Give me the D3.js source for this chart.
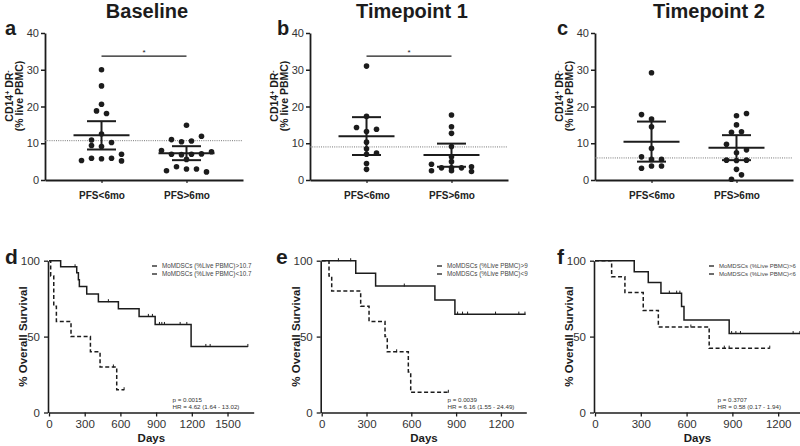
<!DOCTYPE html>
<html>
<head>
<meta charset="utf-8">
<script src="https://cdn.jsdelivr.net/npm/d3@7"></script>
<style>
body {margin: 0; background: #fff}
text {font-family: "Liberation Sans", Arial, sans-serif}
</style>
</head>
<body>
<svg id="fig" width="800" height="446"></svg>
<script>
// ---- scatter panels (a-c) ----
const groups = ["PFS<6mo", "PFS>6mo"]
const scatterTicks = [0, 10, 20, 30, 40]

// a - Baseline
const baseLow = [30, 25.6, 20.6, 18.8, 18.1, 12.5, 10.9, 10.2, 9.4, 9.1, 7.0, 5.9, 5.8, 5.9, 5.3, 5.2]
const baseLowCol = [0, 0, 0, -0.5, 0.5, 0, -1, 1, -1, 0, 2, -1, 0, 1, -2, 2]
const baseHigh = [14.9, 11.9, 11.0, 10.4, 10.6, 8.0, 7.7, 7.0, 6.9, 7.0, 7.1, 5.6, 3.6, 3.0, 3.0, 2.5, 2.2]
const baseHighCol = [0, 1.5, -1.5, -0.5, 0.5, -2.5, 2.5, -1.5, -0.5, 0.5, 1.5, 0, -1, 0, 1, -2, 2]
const baseMean = [12.2, 7.3], baseUpper = [16.0, 9.2], baseLower = [8.3, 5.4]
const baseCut = 10.7

// b - Timepoint 1
const tp1Low = [31, 17.3, 14.3, 13.8, 13.2, 10.3, 8.5, 7.3, 7.0, 4.5, 2.9]
const tp1LowCol = [0, 0, -1, 1, 0, 0, 0, 1, 0, 0, 0]
const tp1High = [17.7, 14.5, 12.7, 9.1, 6.3, 5.0, 4.3, 2.5, 3.3, 3.3, 3.3, 3.6, 2.3, 2.5]
const tp1HighCol = [0, 0, 0, 0, 0, 0, -2, -2, -1, 0, 1, 2, 2, 0]
const tp1Mean = [11.9, 6.8], tp1Upper = [17.1, 9.9], tp1Lower = [6.8, 3.6]
const tp1Cut = 9

// c - Timepoint 2
const tp2Low = [29.2, 17.8, 16.6, 14.5, 8.6, 6.3, 5.6, 5.6, 3.2, 3.8, 3.8]
const tp2LowCol = [0, -1, 0, 0, 0, -1, 0, 1, -1, 0, 1]
const tp2High = [17.5, 18.1, 15.0, 13.0, 13.1, 9.7, 8.2, 7.4, 5.4, 5.3, 5.4, 2.9, 1.4, 0.2]
const tp2HighCol = [0, 1, 0, -0.5, 0.5, -1, 1, 0, -1, 0, 1, 0, 0.5, -0.5]
const tp2Mean = [10.4, 8.8], tp2Upper = [15.9, 12.2], tp2Lower = [5.0, 5.4]
const tp2Cut = 6

const sigLevel = 33.7 // bracket height for "*"

// ---- Kaplan-Meier panels (d-f) ----
const kmTicksY = [0, 50, 100]
const kmTicksX = [0, 300, 600, 900, 1200, 1500]

// d
const dHighDay = [0, 14, 40, 62, 185, 348, 429, 569, 631]
const dHighSurv = [100, 90, 70, 60, 50, 40, 30, 15, 15]
const dHighCens = [541, 631]
const dLowDay = [0, 98, 233, 247, 255, 317, 415, 583, 757, 892, 1194, 1671]
const dLowSurv = [100, 96, 92, 87.5, 83, 78, 73, 68.3, 63.3, 58, 43.5, 43.5]
const dLowCens = [219, 499, 835, 869, 928, 948, 970, 1102, 1158, 1318, 1354, 1671]

// e
const eHighDay = [0, 49, 67, 261, 317, 424, 439, 580, 596, 848]
const eHighSurv = [100, 90, 80, 70, 60, 50, 40, 26.7, 13.3, 13.3]
const eHighCens = [502, 848]
const eLowDay = [0, 228, 361, 758, 892, 1365]
const eLowSurv = [100, 91.7, 83.3, 74.1, 64.8, 64.8]
const eLowCens = [112, 194, 553, 910, 943, 977, 1164, 1320, 1361]

// f
const fHighDay = [0, 109, 196, 316, 415, 748, 1145]
const fHighSurv = [100, 89.5, 79, 67.2, 56.3, 42.4, 42.4]
const fHighCens = [628, 847, 879, 1145]
const fLowDay = [0, 257, 349, 432, 567, 583, 879, 1345]
const fLowSurv = [100, 92.8, 85.6, 78.6, 69.9, 60.9, 52.0, 52.0]
const fLowCens = [487, 535, 556, 895, 923, 953, 1298, 1342]

const ink = "#1c1c1c"
const svg = d3.select("#fig")

function scatterPanel(p) {
    const g = svg.append("g")
    const x = d3.scalePoint().domain(groups).range([p.left, p.left + 198]).padding(0.665)
    const y = d3.scaleLinear().domain([0, 40]).range([180, 33])
    const spacing = 10

    g.append("g")
        .attr("transform", `translate(${p.left},0)`)
        .call(d3.axisLeft(y).tickValues(scatterTicks).tickSize(4).tickSizeOuter(0))
        .call(a => a.select(".domain").attr("stroke", ink).attr("stroke-width", 1.8))
        .call(a => a.selectAll(".tick line").attr("stroke", ink).attr("stroke-width", 1.5))
        .call(a => a.selectAll(".tick text").attr("fill", "#333").attr("font-size", 11).attr("x", -6))
    g.append("g")
        .attr("transform", `translate(0,180)`)
        .call(d3.axisBottom(x).tickSize(3).tickSizeOuter(0).tickPadding(9))
        .call(a => a.select(".domain").attr("stroke", ink).attr("stroke-width", 1.8))
        .call(a => a.selectAll(".tick line").attr("stroke", ink).attr("stroke-width", 1.2))
        .call(a => a.selectAll(".tick text").attr("fill", "#222").attr("font-size", 10).attr("font-weight", "bold"))

    // threshold
    g.append("line")
        .attr("x1", p.left).attr("x2", p.left + 198)
        .attr("y1", y(p.cut)).attr("y2", y(p.cut))
        .attr("stroke", "#777").attr("stroke-width", 1).attr("stroke-dasharray", "1,1.2")

    // dots
    p.sets.forEach((s, i) => {
        g.selectAll(null).data(s.vals).join("circle")
            .attr("cx", (d, j) => x(groups[i]) + s.cols[j] * spacing)
            .attr("cy", d => y(d))
            .attr("r", 2.8)
            .attr("fill", ink)
    })

    // mean + error bars
    groups.forEach((grp, i) => {
        const cx = x(grp)
        g.append("line").attr("x1", cx).attr("x2", cx)
            .attr("y1", y(p.lower[i])).attr("y2", y(p.upper[i]))
            .attr("stroke", ink).attr("stroke-width", 2)
        g.append("line").attr("x1", cx - 28).attr("x2", cx + 28)
            .attr("y1", y(p.mean[i])).attr("y2", y(p.mean[i]))
            .attr("stroke", ink).attr("stroke-width", 2)
        ;[p.lower[i], p.upper[i]].forEach(v => {
            g.append("line").attr("x1", cx - 14.5).attr("x2", cx + 14.5)
                .attr("y1", y(v)).attr("y2", y(v))
                .attr("stroke", ink).attr("stroke-width", 2)
        })
    })

    if (p.sig) {
        g.append("line").attr("x1", x(groups[0])).attr("x2", x(groups[1]))
            .attr("y1", y(sigLevel)).attr("y2", y(sigLevel))
            .attr("stroke", ink).attr("stroke-width", 1.3)
        g.append("text").attr("x", (x(groups[0]) + x(groups[1])) / 2).attr("y", y(sigLevel) - 1)
            .attr("text-anchor", "middle").attr("font-size", 8).attr("fill", ink).text("*")
    }

    // titles
    g.append("text").attr("x", p.titleX).attr("y", 18).attr("text-anchor", "middle")
        .attr("font-size", 20).attr("font-weight", "bold").attr("fill", ink).text(p.title)
    g.append("text").attr("x", p.letterX).attr("y", 35)
        .attr("font-size", 20).attr("font-weight", "bold").attr("fill", ink).text(p.letter)

    const yl = g.append("text").attr("transform", `translate(${p.left - 32},96) rotate(-90)`)
        .attr("text-anchor", "middle").attr("font-size", 10.5).attr("font-weight", "bold").attr("fill", ink)
    yl.append("tspan").text("CD14")
    yl.append("tspan").attr("baseline-shift", "super").attr("font-size", 7).text("+")
    yl.append("tspan").text(" DR")
    yl.append("tspan").attr("baseline-shift", "super").attr("font-size", 7).text("-")
    g.append("text").attr("transform", `translate(${p.left - 22},96) rotate(-90)`)
        .attr("text-anchor", "middle").attr("font-size", 10.5).attr("font-weight", "bold").attr("fill", ink)
        .text("(% live PBMC)")
}

function stepValue(days, surv, t) {
    return surv[Math.max(0, d3.bisectRight(days, t) - 1)]
}

function kmPanel(p) {
    const g = svg.append("g")
    const x = d3.scaleLinear().domain([0, p.maxDay]).range([p.left, p.right])
    const y = d3.scaleLinear().domain([0, 100]).range([412.5, 260.7])

    g.append("g")
        .attr("transform", `translate(0,${y(0)})`)
        .call(d3.axisBottom(x).tickValues(kmTicksX.filter(t => t <= p.maxDay)).tickFormat(d3.format("d"))
            .tickSize(4).tickSizeOuter(0).tickPadding(3))
        .call(a => a.select(".domain").attr("stroke", ink).attr("stroke-width", 1.6))
        .call(a => a.selectAll(".tick line").attr("stroke", ink).attr("stroke-width", 1.3))
        .call(a => a.selectAll(".tick text").attr("fill", "#333").attr("font-size", 11.5))
    g.append("g")
        .attr("transform", `translate(${p.left - 1},0)`)
        .call(d3.axisLeft(y).tickValues(kmTicksY).tickSize(4).tickSizeOuter(0).tickPadding(4))
        .call(a => a.select(".domain").attr("stroke", ink).attr("stroke-width", 1.6))
        .call(a => a.selectAll(".tick line").attr("stroke", ink).attr("stroke-width", 1.3))
        .call(a => a.selectAll(".tick text").attr("fill", "#333").attr("font-size", 11.5))

    const line = d3.line().curve(d3.curveStepAfter).x(d => x(d[0])).y(d => y(d[1]))
    p.curves.forEach(c => {
        g.append("path")
            .datum(d3.zip(c.days, c.surv))
            .attr("d", line)
            .attr("fill", "none")
            .attr("stroke", ink)
            .attr("stroke-width", 1.5)
            .attr("stroke-dasharray", c.dash ? "4,2.5" : null)
        g.selectAll(null).data(c.cens).join("line")
            .attr("x1", d => x(d)).attr("x2", d => x(d))
            .attr("y1", d => y(stepValue(c.days, c.surv, d)) - 2.5)
            .attr("y2", d => y(stepValue(c.days, c.surv, d)) + 0.5)
            .attr("stroke", ink).attr("stroke-width", 1)
    })

    // legend
    p.legend.forEach((lab, i) => {
        const ly = 266 + i * 8
        g.append("line").attr("x1", p.legendX - 10).attr("x2", p.legendX - 5)
            .attr("y1", ly).attr("y2", ly).attr("stroke", ink).attr("stroke-width", 1.3)
        g.append("text").attr("x", p.legendX).attr("y", ly + 2.2)
            .attr("font-size", p.legendSize).attr("fill", "#444").text(lab)
    })
    p.stats.forEach((s, i) => {
        g.append("text").attr("x", p.statsX).attr("y", 401.5 + i * 7.6)
            .attr("font-size", 6.2).attr("fill", "#333").text(s)
    })

    g.append("text").attr("x", (p.left + p.right) / 2).attr("y", 441.5).attr("text-anchor", "middle")
        .attr("font-size", 11.5).attr("font-weight", "bold").attr("fill", ink).text("Days")
    g.append("text").attr("transform", `translate(${p.left - 22},336.5) rotate(-90)`)
        .attr("text-anchor", "middle").attr("font-size", 11.5).attr("font-weight", "bold").attr("fill", ink)
        .text("% Overall Survival")
    g.append("text").attr("x", p.letterX).attr("y", 263.5)
        .attr("font-size", 21).attr("font-weight", "bold").attr("fill", ink).text(p.letter)
}

scatterPanel({left: 45, title: "Baseline", titleX: 147, letter: "a", letterX: 5, cut: baseCut, sig: true,
    sets: [{vals: baseLow, cols: baseLowCol}, {vals: baseHigh, cols: baseHighCol}],
    mean: baseMean, upper: baseUpper, lower: baseLower})
scatterPanel({left: 310, title: "Timepoint 1", titleX: 412, letter: "b", letterX: 277, cut: tp1Cut, sig: true,
    sets: [{vals: tp1Low, cols: tp1LowCol}, {vals: tp1High, cols: tp1HighCol}],
    mean: tp1Mean, upper: tp1Upper, lower: tp1Lower})
scatterPanel({left: 595, title: "Timepoint 2", titleX: 709, letter: "c", letterX: 557, cut: tp2Cut, sig: false,
    sets: [{vals: tp2Low, cols: tp2LowCol}, {vals: tp2High, cols: tp2HighCol}],
    mean: tp2Mean, upper: tp2Upper, lower: tp2Lower})

kmPanel({left: 49, right: 253.7, maxDay: 1720, letter: "d", letterX: 5, legendX: 162, legendSize: 6.3, statsX: 172.5,
    curves: [{days: dHighDay, surv: dHighSurv, cens: dHighCens, dash: true},
             {days: dLowDay, surv: dLowSurv, cens: dLowCens, dash: false}],
    legend: ["MoMDSCs (%Live PBMC)>10.7", "MoMDSCs (%Live PBMC)<10.7"],
    stats: ["p = 0.0015", "HR = 4.62 (1.64 - 13.02)"]})
kmPanel({left: 321.7, right: 526.3, maxDay: 1370, letter: "e", letterX: 276, legendX: 447, legendSize: 6.3, statsX: 447.5,
    curves: [{days: eHighDay, surv: eHighSurv, cens: eHighCens, dash: true},
             {days: eLowDay, surv: eLowSurv, cens: eLowCens, dash: false}],
    legend: ["MoMDSCs (%Live PBMC)>9", "MoMDSCs (%Live PBMC)<9"],
    stats: ["p = 0.0039", "HR = 6.16 (1.55 - 24.49)"]})
kmPanel({left: 595, right: 800, maxDay: 1343, letter: "f", letterX: 557, legendX: 719, legendSize: 6, statsX: 717.5,
    curves: [{days: fHighDay, surv: fHighSurv, cens: fHighCens, dash: true},
             {days: fLowDay, surv: fLowSurv, cens: fLowCens, dash: false}],
    legend: ["MoMDSCs (%Live PBMC)>6", "MoMDSCs (%Live PBMC)<6"],
    stats: ["p = 0.3707", "HR = 0.58 (0.17 - 1.94)"]})
</script>
</body>
</html>
